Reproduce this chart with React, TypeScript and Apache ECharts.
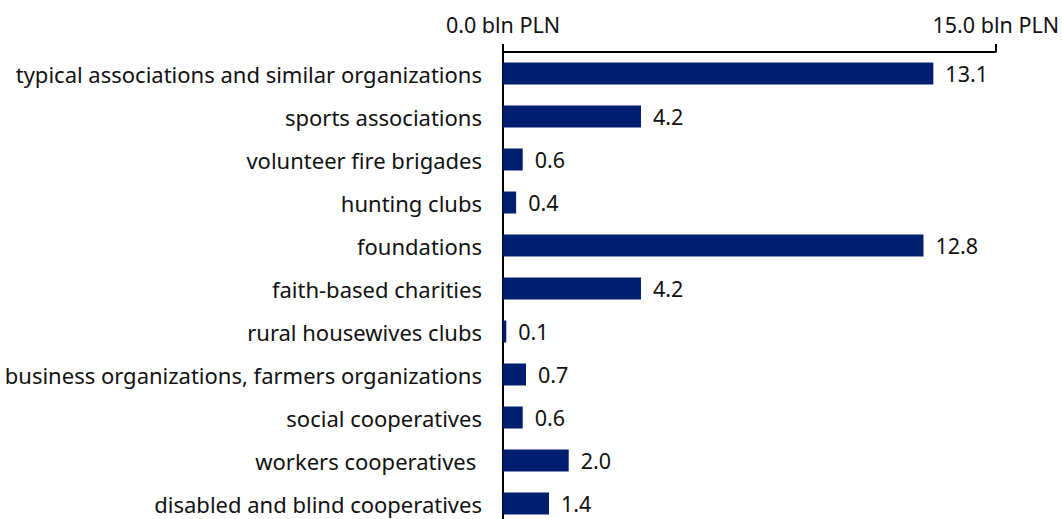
import React, { useEffect, useRef } from "react";
import * as echarts from "echarts";

const categories = [
  "typical associations and similar organizations",
  "sports associations",
  "volunteer fire brigades",
  "hunting clubs",
  "foundations",
  "faith-based charities",
  "rural housewives clubs",
  "business organizations, farmers organizations",
  "social cooperatives",
  "workers cooperatives ",
  "disabled and blind cooperatives",
];
const values = [13.1, 4.2, 0.6, 0.4, 12.8, 4.2, 0.1, 0.7, 0.6, 2.0, 1.4];
const axisMin = 0;
const axisMax = 15;

export default function App() {
  const ref = useRef<HTMLDivElement>(null);
  useEffect(() => {
    if (!ref.current) return;
    const chart = echarts.init(ref.current, undefined, { renderer: "svg" });
    const font = "'Noto Sans', sans-serif";
    chart.setOption({
      animation: false,
      textStyle: { fontFamily: font },
      grid: { left: 503, right: 65, top: 52, bottom: 0, containLabel: false },
      xAxis: {
        type: "value",
        position: "top",
        min: axisMin,
        max: axisMax,
        interval: axisMax - axisMin,
        splitLine: { show: false },
        axisLine: { show: true, lineStyle: { color: "#000", width: 2 } },
        axisTick: { show: true, length: 8, lineStyle: { color: "#000", width: 2 } },
        axisLabel: {
          show: true,
          margin: 17,
          fontSize: 21.5,
          color: "#111",
          fontFamily: font,
          formatter: (v: number) => v.toFixed(1) + " bln PLN",
        },
      },
      yAxis: {
        type: "category",
        inverse: true,
        data: categories,
        axisLine: { show: true, lineStyle: { color: "#000", width: 2 } },
        axisTick: { show: false },
        axisLabel: { margin: 21, fontSize: 22, color: "#111", fontFamily: font },
      },
      series: [
        {
          type: "bar",
          data: values,
          barWidth: 22,
          itemStyle: { color: "#001e70" },
          label: {
            show: true,
            position: "right",
            distance: 12,
            fontSize: 21.5,
            color: "#111",
            fontFamily: font,
            formatter: (p: any) => Number(p.value).toFixed(1),
          },
        },
      ],
    });
    return () => chart.dispose();
  }, []);
  return (
    <div style={{ width: 1062, height: 519, position: "absolute", left: 0, top: 0, overflow: "hidden" }}>
      <div ref={ref} style={{ width: 1062, height: 525 }} />
    </div>
  );
}
